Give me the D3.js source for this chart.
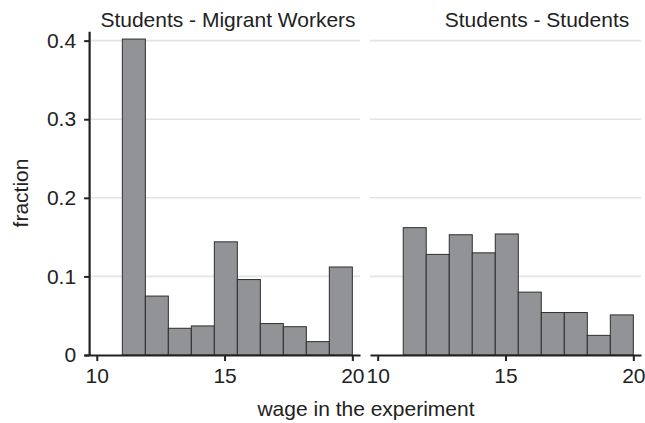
<!DOCTYPE html>
<html>
<head>
<meta charset="utf-8">
<script src="https://cdn.jsdelivr.net/npm/d3@7"></script>
<style>
  html, body { margin: 0; padding: 0; background: #fff; }
  svg text { font-family: "Liberation Sans", Arial, Helvetica, sans-serif; fill: #222; }
</style>
</head>
<body>
<svg id="chart" width="645" height="423"></svg>
<script>
// Histogram bin edges (wage in the experiment)
const binEdges = [11, 11.9, 12.8, 13.7, 14.6, 15.5, 16.4, 17.3, 18.2, 19.1, 20];

// Fraction of offers falling into each bin, per treatment
const migrantFractions  = [0.402, 0.075, 0.034, 0.037, 0.144, 0.096, 0.040, 0.036, 0.017, 0.112];
const studentFractions  = [0.162, 0.128, 0.153, 0.130, 0.154, 0.080, 0.054, 0.054, 0.025, 0.051];

const panelTitles = ["Students - Migrant Workers", "Students - Students"];
const xTicks = [10, 15, 20];
const yTicks = [0, 0.1, 0.2, 0.3, 0.4];
const yTickLabels = ["0", "0.1", "0.2", "0.3", "0.4"];
const xAxisTitle = "wage in the experiment";
const yAxisTitle = "fraction";

const svg = d3.select("#chart");
const FONT = 21;
const INK = "#222";

const y = d3.scaleLinear().domain([0, 0.412]).range([355, 31.2]);

// Panel layouts: left panel carries the y axis
const panels = [
  { title: panelTitles[0], values: migrantFractions, xDomain: [9.5, 20.3], xRange: [84, 360], gridFrom: 9.7, titleX: 228, yAxis: true },
  { title: panelTitles[1], values: studentFractions, xDomain: [9.7, 20.3], xRange: [370, 641], gridFrom: 9.7, titleX: 537, yAxis: false }
];

panels.forEach(p => {
  const x = d3.scaleLinear().domain(p.xDomain).range(p.xRange);
  const g = svg.append("g");

  // horizontal grid lines
  g.selectAll("line.grid")
    .data(yTicks.filter(v => v > 0))
    .join("line")
    .attr("class", "grid")
    .attr("x1", x(p.gridFrom)).attr("x2", x(p.xDomain[1]))
    .attr("y1", d => y(d)).attr("y2", d => y(d))
    .attr("stroke", "#e4e4e4").attr("stroke-width", 1.6);

  // bars
  const bins = p.values.map((v, i) => ({ x0: binEdges[i], x1: binEdges[i + 1], v }));
  g.selectAll("rect.bar")
    .data(bins)
    .join("rect")
    .attr("class", "bar")
    .attr("x", d => x(d.x0))
    .attr("width", d => x(d.x1) - x(d.x0))
    .attr("y", d => y(d.v))
    .attr("height", d => y(0) - y(d.v))
    .attr("fill", "#929396")
    .attr("stroke", "#2e2e2e")
    .attr("stroke-width", 1);

  // x axis
  const xAxis = d3.axisBottom(x).tickValues(xTicks).tickSize(6).tickSizeOuter(0).tickPadding(7)
    .tickFormat(d3.format("d"));
  const xg = g.append("g").attr("transform", `translate(0,${y(0)})`).call(xAxis);
  xg.select(".domain").attr("stroke", INK).attr("stroke-width", 2.2);
  xg.selectAll(".tick line").attr("stroke", INK).attr("stroke-width", 2);
  xg.selectAll(".tick text").attr("font-size", FONT).attr("fill", INK)
    .attr("font-family", '"Liberation Sans", Arial, sans-serif');

  // y axis (left panel only)
  if (p.yAxis) {
    const yAxis = d3.axisLeft(y).tickValues(yTicks).tickSize(5).tickSizeOuter(0).tickPadding(8)
      .tickFormat((d, i) => yTickLabels[i]);
    const yg = g.append("g").attr("transform", `translate(${x(p.gridFrom) + 0},0)`).call(yAxis);
    yg.select(".domain").attr("stroke", INK).attr("stroke-width", 2.2);
    yg.selectAll(".tick line").attr("stroke", INK).attr("stroke-width", 2);
    yg.selectAll(".tick text").attr("font-size", FONT).attr("fill", INK)
      .attr("font-family", '"Liberation Sans", Arial, sans-serif');
  }

  // panel title
  g.append("text")
    .attr("x", p.titleX).attr("y", 27)
    .attr("text-anchor", "middle")
    .attr("font-size", FONT)
    .text(p.title);
});

// axis titles
svg.append("text")
  .attr("x", 366).attr("y", 416)
  .attr("text-anchor", "middle")
  .attr("font-size", FONT)
  .text(xAxisTitle);

svg.append("text")
  .attr("transform", "translate(28,193) rotate(-90)")
  .attr("text-anchor", "middle")
  .attr("font-size", FONT)
  .text(yAxisTitle);
</script>
</body>
</html>
